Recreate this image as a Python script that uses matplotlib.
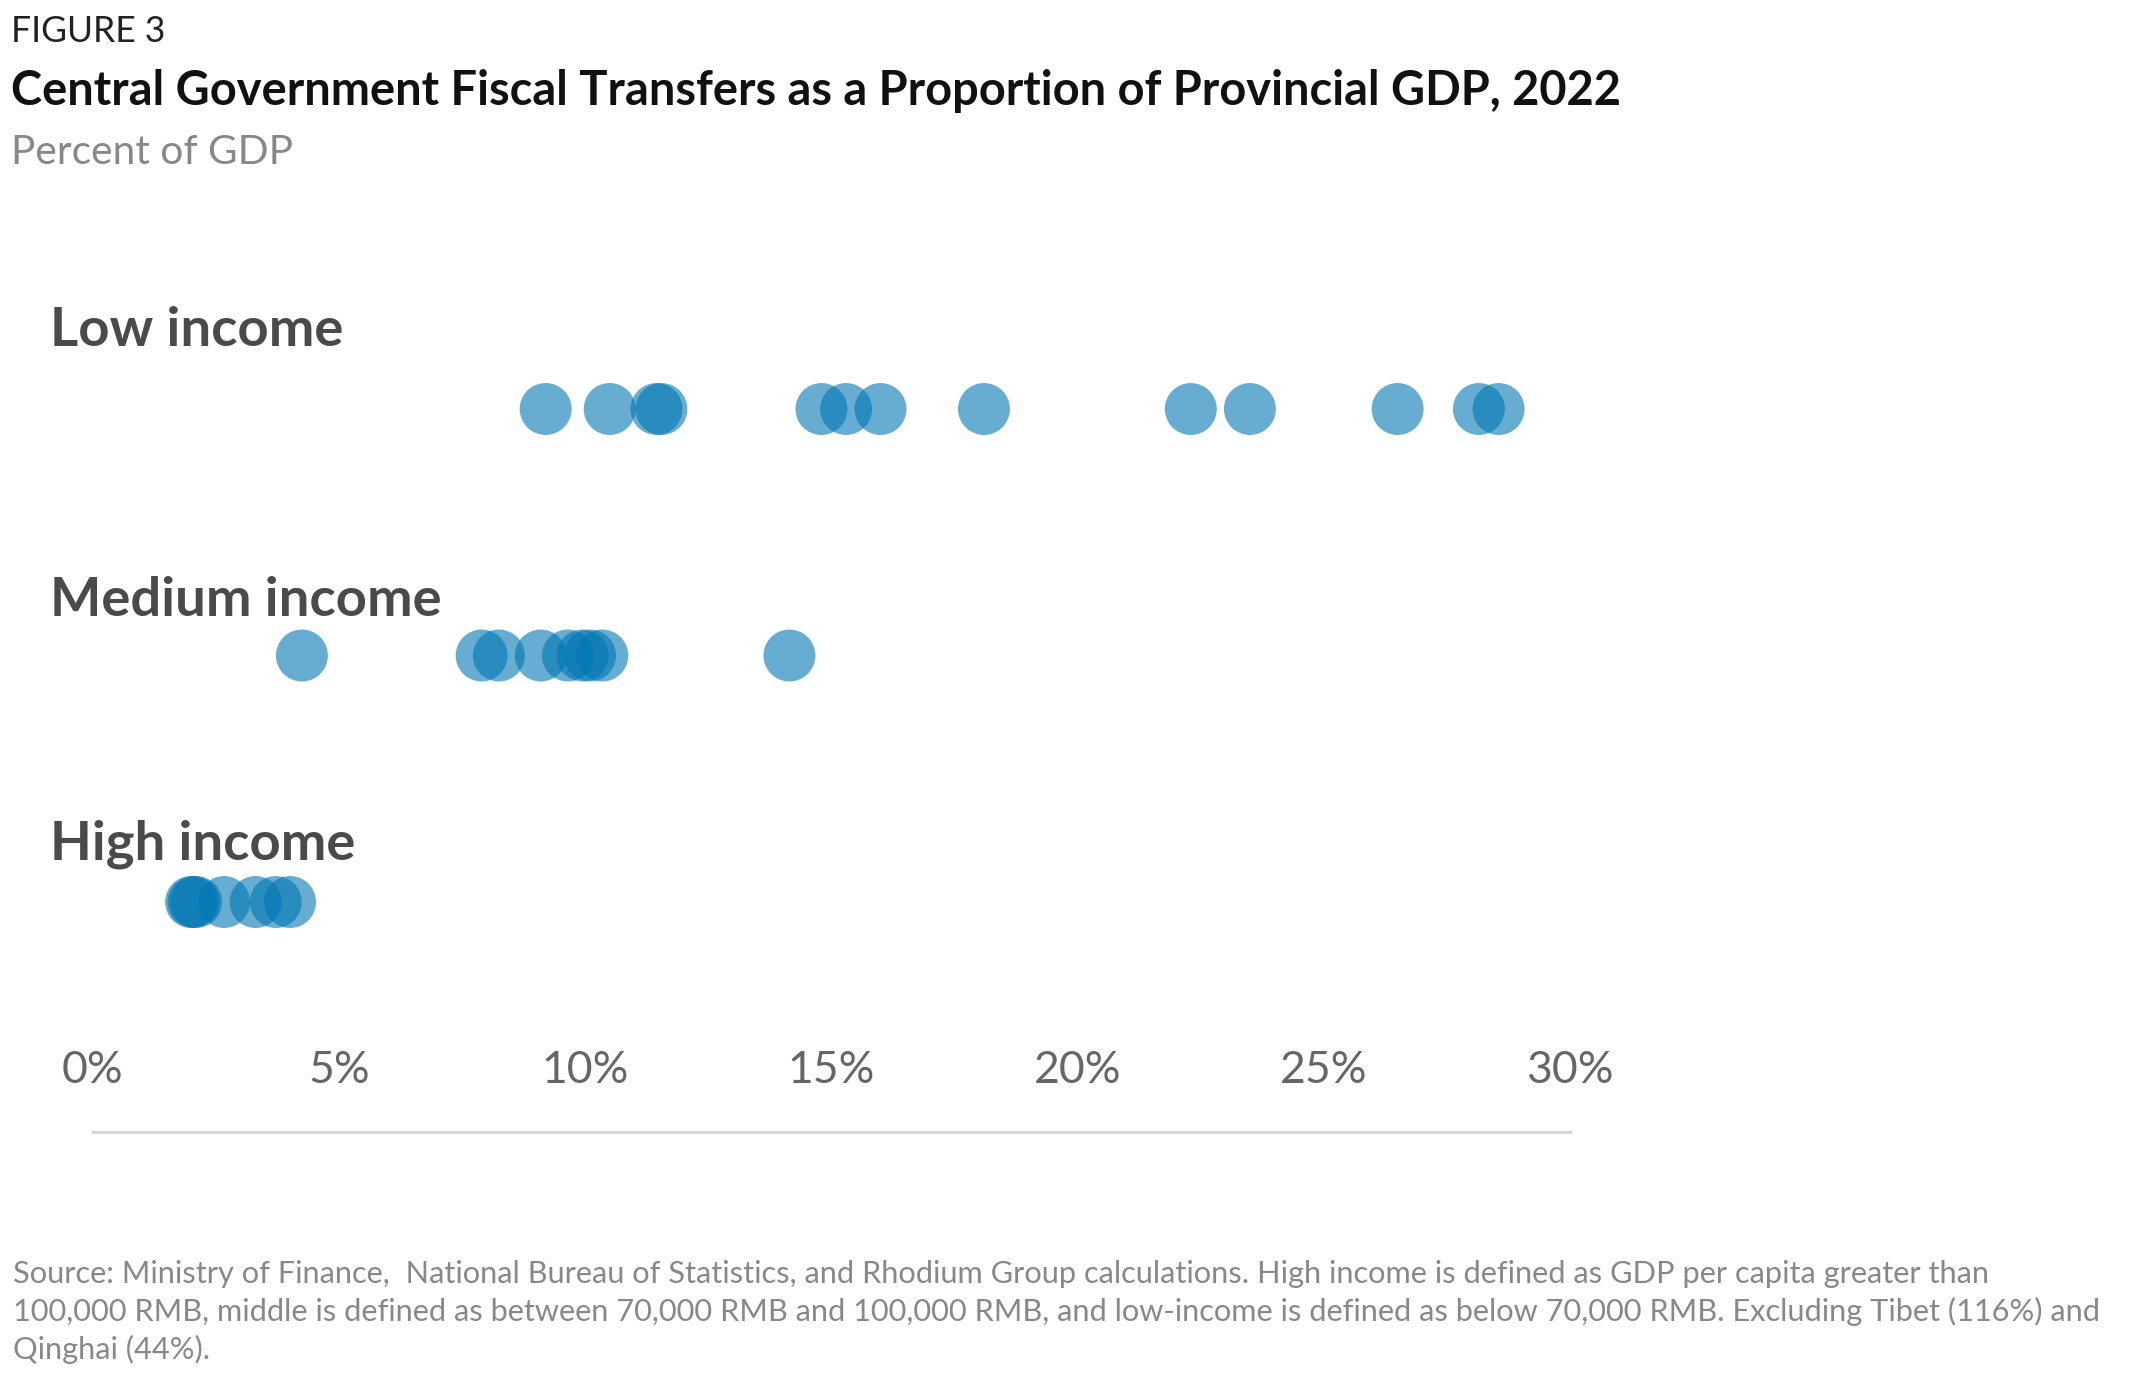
import matplotlib
matplotlib.use("Agg")
import matplotlib.pyplot as plt

plt.rcParams["font.family"] = ["Lato", "DejaVu Sans"]

# data: central transfers as % of provincial GDP, 2022
groups = ["Low income", "Medium income", "High income"]
low_income = [9.2, 10.5, 11.45, 11.55, 14.8, 15.3, 16.0, 18.1, 22.3, 23.5, 26.5, 28.15, 28.55]
medium_income = [4.25, 7.9, 8.25, 9.1, 9.65, 9.95, 10.1, 10.35, 14.15]
high_income = [2.0, 2.05, 2.1, 2.67, 3.31, 3.72, 4.01]
values = [low_income, medium_income, high_income]
xticks = [0, 5, 10, 15, 20, 25, 30]

W, H = 2134, 1377
fig = plt.figure(figsize=(W / 100, H / 100), dpi=100)
fig.patch.set_facecolor("white")

def px(x, y):
    return x / W, 1 - y / H

# axes: 0% at x=92.6px, 30% at x=1570px, bottom spine at y=1131px, top at 250px
left, bottom = px(92.6, 1132)
right, top = px(1570, 251)
ax = fig.add_axes([left, bottom, right - left, top - bottom])
ax.set_xlim(0, 30)
ax.set_ylim(-0.933, 2.641)

dot_color = "#0077b3"
for i, vals in enumerate(values):
    row = len(values) - 1 - i
    ax.scatter(vals, [row] * len(vals), s=1400, color=dot_color, alpha=0.6,
               edgecolors="none", zorder=3)

for s in ["top", "right", "left"]:
    ax.spines[s].set_visible(False)
ax.spines["bottom"].set_color("#d6d6d6")
ax.spines["bottom"].set_linewidth(2.2)
ax.set_yticks([])
ax.set_xticks(xticks)
ax.set_xticklabels([f"{t}%" for t in xticks])
ax.tick_params(axis="x", length=0, pad=-59, labelcolor="#666666")

renderer = fig.canvas.get_renderer()

def fit(t, width_px):
    t.set_fontsize(20)
    w = t.get_window_extent(renderer).width
    t.set_fontsize(20 * width_px / w)
    return t.get_fontsize()

# tick label size from "30%" width
probe = fig.text(0, 0, "30%")
tick_fs = fit(probe, 87)
probe.remove()
for lab in ax.get_xticklabels():
    lab.set_fontsize(tick_fs)

# category labels
label_y = [331, 600, 844]
probe = fig.text(0, 0, "Medium income", fontweight="bold")
cat_fs = fit(probe, 391)
probe.remove()
for g, ly in zip(groups, label_y):
    fig.text(50 / W, 1 - ly / H, g, fontsize=cat_fs, fontweight="bold",
             color="#4a4a4a", va="center", ha="left")

# header
t1 = fig.text(11 / W, 1 - 32 / H, "FIGURE 3", color="#222222", va="center")
fit(t1, 154)
t2 = fig.text(11 / W, 1 - 91 / H,
              "Central Government Fiscal Transfers as a Proportion of Provincial GDP, 2022",
              color="#111111", fontweight="bold", va="center")
fit(t2, 1610)
t3 = fig.text(11 / W, 1 - 152 / H, "Percent of GDP", color="#888888", va="center")
fit(t3, 282)

# source note
src_lines = [
    "Source: Ministry of Finance,  National Bureau of Statistics, and Rhodium Group calculations. High income is defined as GDP per capita greater than",
    "100,000 RMB, middle is defined as between 70,000 RMB and 100,000 RMB, and low-income is defined as below 70,000 RMB. Excluding Tibet (116%) and",
    "Qinghai (44%).",
]
widths = []
for line in src_lines:
    probe = fig.text(0, 0, line, fontsize=20)
    widths.append(probe.get_window_extent(renderer).width)
    probe.remove()
src_fs = 20 * 2097 / max(widths)
for line, ly in zip(src_lines, [1274, 1311, 1349]):
    fig.text(13 / W, 1 - ly / H, line, fontsize=src_fs, color="#888888", va="center")

fig.savefig("out.png", dpi=100, facecolor="white")
